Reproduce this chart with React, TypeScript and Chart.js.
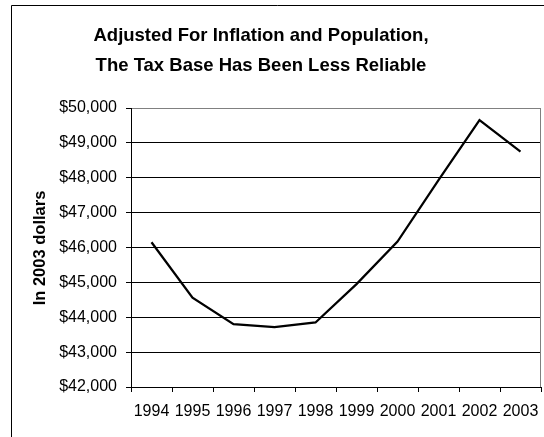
import React, { useEffect, useRef } from 'react';
import { Chart, registerables } from 'chart.js';

Chart.register(...registerables);

const years = ['1994', '1995', '1996', '1997', '1998', '1999', '2000', '2001', '2002', '2003'];
const taxBase = [46150, 44560, 43800, 43720, 43850, 44950, 46170, 47930, 49650, 48750];
const titleLines = ['Adjusted For Inflation and Population,', 'The Tax Base Has Been Less Reliable'];
const yAxisTitle = 'In 2003 dollars';
const yMin = 42000;
const yMax = 50000;
const yStep = 1000;

const FONT = '"Liberation Sans", Arial, Helvetica, sans-serif';

const decorPlugin = {
  id: 'decor',
  beforeDraw(chart: any) {
    const { ctx, width, height } = chart;
    ctx.save();
    ctx.fillStyle = '#ffffff';
    ctx.fillRect(0, 0, width, height);
    ctx.restore();
  },
  afterDraw(chart: any) {
    const { ctx, chartArea } = chart;
    const { top, bottom, right } = chartArea;
    ctx.save();
    // outer frame (left + top visible)
    ctx.strokeStyle = '#000000';
    ctx.lineWidth = 1;
    ctx.beginPath();
    ctx.moveTo(11.5, chart.height);
    ctx.lineTo(11.5, 5.5);
    ctx.lineTo(chart.width, 5.5);
    ctx.stroke();
    // plot right border
    ctx.strokeStyle = '#808080';
    ctx.beginPath();
    const rx = Math.round(right) - 0.5;
    ctx.moveTo(rx, Math.round(top) + 0.5);
    ctx.lineTo(rx, Math.round(bottom));
    ctx.stroke();
    // title
    ctx.fillStyle = '#000000';
    ctx.textAlign = 'center';
    ctx.textBaseline = 'alphabetic';
    ctx.font = `bold 18.5px ${FONT}`;
    ctx.fillText(titleLines[0], 261, 41);
    ctx.fillText(titleLines[1], 261, 71);
    // y axis title
    ctx.translate(45, (top + bottom) / 2 + 0.5);
    ctx.rotate(-Math.PI / 2);
    ctx.font = `bold 16.5px ${FONT}`;
    ctx.fillText(yAxisTitle, 0, 0);
    ctx.restore();
  },
};

export default function App() {
  const canvasRef = useRef<HTMLCanvasElement | null>(null);

  useEffect(() => {
    document.body.style.margin = '0';
    const canvas = canvasRef.current;
    if (!canvas) return;
    const chart = new Chart(canvas, {
      type: 'line',
      data: {
        labels: years,
        datasets: [
          {
            data: taxBase,
            borderColor: '#000000',
            borderWidth: 2.25,
            pointRadius: 0,
            tension: 0,
            fill: false,
          },
        ],
      },
      options: {
        responsive: false,
        animation: false,
        devicePixelRatio: 1,
        layout: { padding: { top: 108, right: 3, left: 0, bottom: 0 } },
        plugins: {
          legend: { display: false },
          title: { display: false },
          tooltip: { enabled: false },
        },
        scales: {
          x: {
            type: 'category',
            offset: true,
            grid: {
              display: true,
              offset: true,
              drawOnChartArea: false,
              drawTicks: true,
              tickLength: 5,
              tickColor: '#000000',
              color: '#000000',
            },
            border: { display: true, color: '#000000', width: 1 },
            ticks: {
              color: '#000000',
              font: { family: FONT, size: 16 },
              padding: 10,
              autoSkip: false,
              maxRotation: 0,
              minRotation: 0,
            },
            afterFit(scale: any) {
              scale.height = 50;
              scale.paddingLeft = 0;
              scale.paddingRight = 0;
            },
          },
          y: {
            min: yMin,
            max: yMax,
            grid: {
              color: (c: any) => (c.tick && c.tick.value === yMax ? '#808080' : '#000000'),
              tickColor: '#000000',
              tickLength: 5,
              lineWidth: 1,
            },
            border: { display: true, color: '#000000', width: 1 },
            ticks: {
              stepSize: yStep,
              color: '#000000',
              padding: 9,
              font: { family: FONT, size: 16 },
              callback: (v: any) => '$' + Number(v).toLocaleString('en-US'),
            },
            afterFit(scale: any) {
              scale.width = 131;
              scale.paddingTop = 0;
              scale.paddingBottom = 0;
            },
          },
        },
      },
      plugins: [decorPlugin],
    });
    return () => chart.destroy();
  }, []);

  return (
    <div style={{ position: 'absolute', left: 0, top: 0, width: 544, height: 437 }}>
      <canvas ref={canvasRef} width={544} height={437} style={{ display: 'block', width: 544, height: 437 }} />
    </div>
  );
}
